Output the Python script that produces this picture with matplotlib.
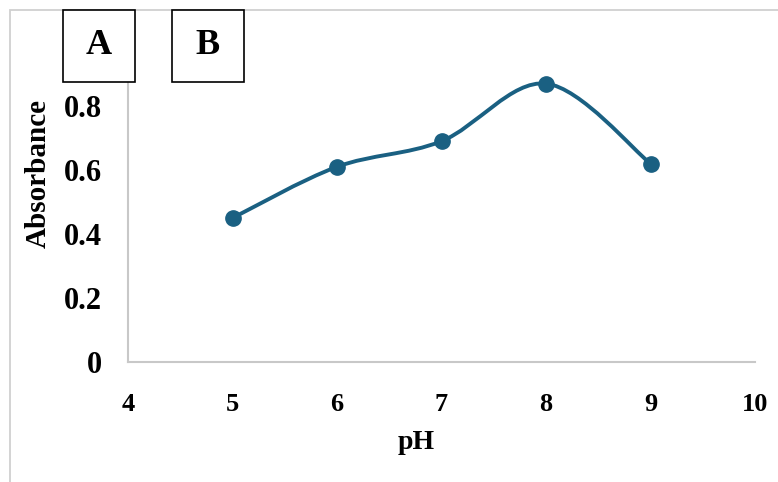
import numpy as np
import matplotlib
matplotlib.use("Agg")
from matplotlib import pyplot as plt
from matplotlib.path import Path
from matplotlib.patches import PathPatch, Rectangle

# данные
ph = [5, 6, 7, 8, 9]
absorbance = [0.45, 0.61, 0.69, 0.87, 0.62]
x_ticks = [4, 5, 6, 7, 8, 9, 10]
y_ticks = [0, 0.2, 0.4, 0.6, 0.8]
y_tick_labels = ["0", "0.2", "0.4", "0.6", "0.8"]

color = "#1a6082"
plt.rcParams["font.family"] = ["Liberation Serif", "DejaVu Serif"]
plt.rcParams["font.weight"] = "bold"

fig = plt.figure(figsize=(7.78, 4.82), dpi=100)
W, H = 778, 482
ax = fig.add_axes([128 / W, 1 - 362 / H, (755 - 128) / W, (362 - 74) / H])

# сглаженная линия как в Excel (безье по соседним точкам)
x = np.array(ph, float)
y = np.array(absorbance, float)
verts = [(x[0], y[0])]
codes = [Path.MOVETO]
n = len(x)
for i in range(n - 1):
    p0 = np.array([x[max(i - 1, 0)], y[max(i - 1, 0)]])
    p1 = np.array([x[i], y[i]])
    p2 = np.array([x[i + 1], y[i + 1]])
    p3 = np.array([x[min(i + 2, n - 1)], y[min(i + 2, n - 1)]])
    c1 = p1 + (p2 - p0) / 6
    c2 = p2 - (p3 - p1) / 6
    verts += [tuple(c1), tuple(c2), tuple(p2)]
    codes += [Path.CURVE4] * 3
ax.add_patch(PathPatch(Path(verts, codes), fill=False, edgecolor=color, lw=2.8,
                       capstyle="round"))
ax.plot(ph, absorbance, "o", color=color, markersize=11, zorder=3)

ax.set_xlim(4, 10)
ax.set_ylim(0, 0.9)
ax.set_xticks(x_ticks)
ax.set_yticks(y_ticks)
ax.set_yticklabels(y_tick_labels)
ax.tick_params(length=0)
ax.tick_params(axis="x", pad=22, labelsize=19)
ax.tick_params(axis="y", pad=19, labelsize=22)
for s in ["top", "right"]:
    ax.spines[s].set_visible(False)
for s in ["left", "bottom"]:
    ax.spines[s].set_color("#c8c8c8")
    ax.spines[s].set_linewidth(1.5)

ax.set_xlabel("pH", fontsize=20, fontweight="bold", va="center")
ax.xaxis.set_label_coords(0.459, -0.278)
ax.set_ylabel("Absorbance", fontsize=21, fontweight="bold", va="center")
ax.yaxis.set_label_coords(-0.1435, 0.653)

# рамка вокруг
fig.add_artist(Rectangle((10 / W, -0.1), 1.2, (H - 10) / H + 0.1,
                         transform=fig.transFigure, fill=False,
                         edgecolor="#d0d0d0", lw=1.3))

# подписи A и B в рамках
for lab, x0 in [("A", 63), ("B", 172)]:
    fig.add_artist(Rectangle((x0 / W, 1 - 82 / H), 72 / W, 72 / H,
                             transform=fig.transFigure, facecolor="white",
                             edgecolor="black", lw=1.2, zorder=5))
    fig.text((x0 + 36) / W, 1 - 45 / H, lab, fontsize=26, fontweight="bold",
             ha="center", va="center", zorder=6)

fig.savefig("out.png", dpi=100)
